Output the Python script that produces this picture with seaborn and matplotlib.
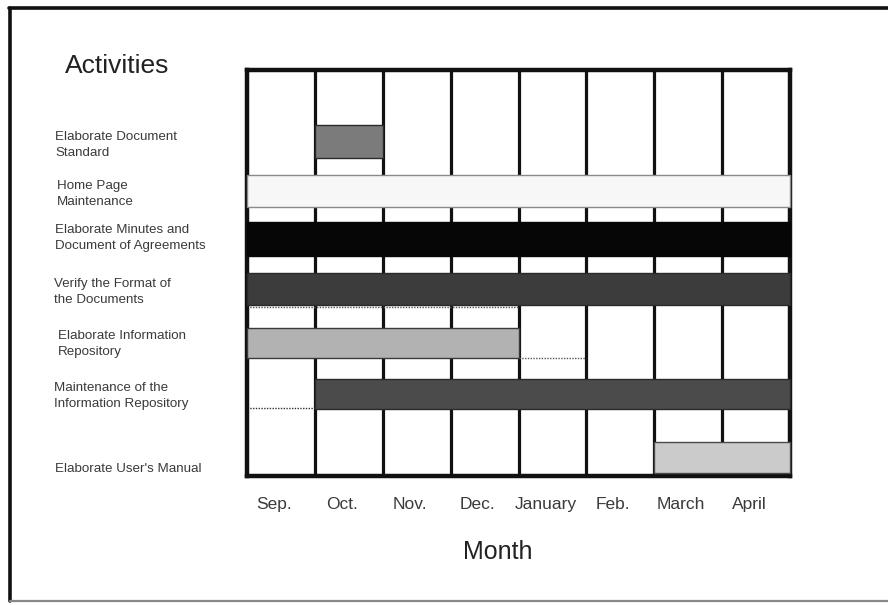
import matplotlib
matplotlib.use("Agg")
import matplotlib.pyplot as plt
from matplotlib.lines import Line2D
from matplotlib.transforms import ScaledTranslation
import seaborn as sns

# ---- data -------------------------------------------------------------
activities = [
    "Elaborate Document\nStandard",
    "Home Page\nMaintenance",
    "Elaborate Minutes and\nDocument of Agreements",
    "Verify the Format of\nthe Documents",
    "Elaborate Information\nRepository",
    "Maintenance of the\nInformation Repository",
    "Elaborate User's Manual",
]
# month index: 0 = Sep., 8 = end of April
start_month = [1, 0, 0, 0, 0, 1, 6]
end_month = [2, 8, 8, 8, 4, 8, 8]
months = ["Sep.", "Oct.", "Nov.", "Dec.", "January", "Feb.", "March", "April"]

# ---- styling -------------------------------------------------------------
row_pos = [1.41, 2.38, 3.33, 4.32, 5.38, 6.38, 7.64]
bar_h = [0.65, 0.63, 0.67, 0.63, 0.60, 0.60, 0.61]
fills = ["#7b7b7b", "#f7f7f7", "#060606", "#3c3c3c", "#b2b2b2", "#4b4b4b", "#cbcbcb"]
edges = ["#2a2a2a", "#8a8a8a", "#060606", "#2a2a2a", "#3a3a3a", "#2a2a2a", "#4a4a4a"]
label_x = [55, 57, 55, 54, 58, 54, 55]
label_y = [145, 194, 238, 292, 344, 396, 469]

W, H = 888, 605
sns.set_style("white")
plt.rcParams["font.family"] = ["Liberation Sans", "DejaVu Sans"]

fig = plt.figure(figsize=(W / 100, H / 100), dpi=100)
fig.patch.set_facecolor("white")
ax = fig.add_axes([247 / W, 1 - 476 / H, 543 / W, 406 / H])


def fx(px):
    return px / W


def fy(py):
    return 1 - py / H


# month separators behind the bars
for m in range(1, len(months)):
    ax.axvline(m, color="#111111", lw=2.3, zorder=1)

# one horizontal bar per activity
for i in range(len(activities)):
    sns.barplot(
        x=[end_month[i] - start_month[i]],
        y=[row_pos[i]],
        orient="y",
        native_scale=True,
        left=start_month[i],
        width=bar_h[i],
        color=fills[i],
        saturation=1,
        edgecolor=edges[i],
        linewidth=1.0,
        errorbar=None,
        ax=ax,
        zorder=3,
        clip_on=False,
    )

# dotted baselines left behind by the schedule
ax.plot([0, 4], [4.67, 4.67], ls=(0, (1, 1)), color="#555555", lw=1.0, zorder=2)
ax.plot([4, 5], [5.675, 5.675], ls=(0, (1, 1)), color="#555555", lw=1.0, zorder=2)
ax.plot([0, 1], [6.66, 6.66], ls=(0, (1, 1)), color="#333333", lw=1.0, zorder=2)

ax.set_xlim(0, len(months))
ax.set_ylim(8, 0)
ax.set_yticks([])
ax.set_xticks([m + 0.5 for m in range(len(months))])
ax.set_xticklabels(months, fontsize=12.5, color="#3a3a3a")
ax.tick_params(axis="x", length=0, pad=15)
shift = ScaledTranslation(-7 / 100, 0, fig.dpi_scale_trans)
for lbl in ax.get_xticklabels():
    lbl.set_transform(lbl.get_transform() + shift)
ax.set_xlabel("")
ax.set_ylabel("")
for s in ax.spines.values():
    s.set_visible(True)
    s.set_color("#111111")
    s.set_linewidth(3.2)
    s.set_zorder(2.5)

# headings
fig.text(fx(65), fy(66), "Activities", fontsize=19, color="#222222",
         ha="left", va="center")
fig.text(fx(498), fy(552), "Month", fontsize=18, color="#222222",
         ha="center", va="center")

# activity names
for name, x, y in zip(activities, label_x, label_y):
    fig.text(fx(x), fy(y), name, fontsize=9.6, color="#3a3a3a",
             ha="left", va="center", linespacing=1.45)

# outer frame
fig.add_artist(Line2D([fx(10), fx(10)], [fy(8), fy(601)], color="#111111",
                      lw=2.6, transform=fig.transFigure))
fig.add_artist(Line2D([fx(9), fx(888)], [fy(8), fy(8)], color="#111111",
                      lw=2.6, transform=fig.transFigure))
fig.add_artist(Line2D([fx(10), fx(888)], [fy(601), fy(601)], color="#888888",
                      lw=1.6, transform=fig.transFigure))

fig.savefig("out.png", dpi=100, facecolor="white")
